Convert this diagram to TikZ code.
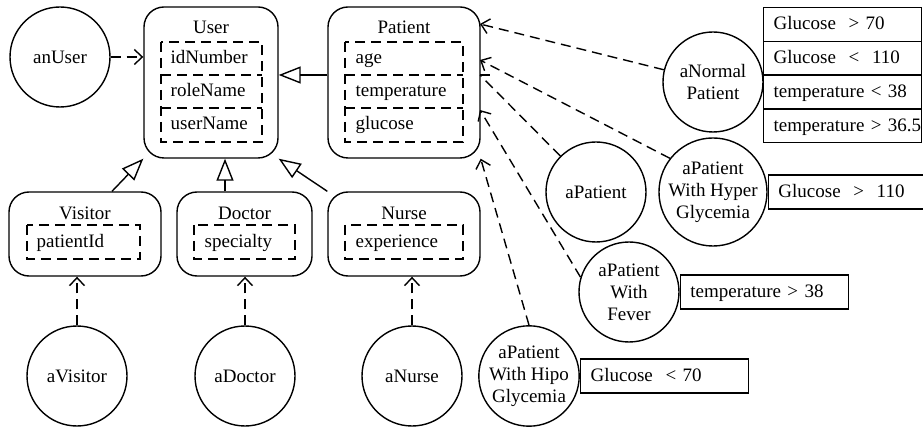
\documentclass[tikz,border=0pt]{standalone}
\usepackage{fontspec}
\setmainfont{Liberation Serif}
\usetikzlibrary{arrows.meta,calc}
\tikzset{
    cls/.style={draw, rounded corners=20pt, inner sep=0pt},
    obj/.style={draw, circle, inner sep=0pt, minimum size=100pt, align=center},
    ttl/.style={anchor=base, inner sep=0pt},
    attr/.style={anchor=base west, inner sep=0pt},
    cond/.style={draw, anchor=north west, minimum height=33.7pt, text width=#1, inner xsep=0pt, inner ysep=0pt,
        align=left, execute at begin node=\hspace*{10pt}, text height=12.6pt, text depth=2pt},
    cond/.default=158pt,
    dsh/.style={dash pattern=on 10pt off 6pt},
    gen/.style={-{Triangle[open,length=22pt,width=17pt]}},
    dep/.style={dsh,-{Straight Barb[length=8pt,width=15pt]}}}

\begin{document}
\begin{tikzpicture}[x=1pt,y=-1pt,line width=1.4pt,font=\fontsize{19}{22}\selectfont]
\useasboundingbox (0,0) rectangle (923,427);

% classes
\node[cls, minimum width=134pt, minimum height=151pt] (User) at (211,82.5) {};
\node[cls, minimum width=152pt, minimum height=151pt] (Patient) at (404,82.5) {};
\node[cls, minimum width=152pt, minimum height=84pt] (Visitor) at (85,234) {};
\node[cls, minimum width=135pt, minimum height=84pt] (Doctor) at (244.5,234) {};
\node[cls, minimum width=152pt, minimum height=84pt] (Nurse) at (404,234) {};

\node[ttl] (User-t) at (211,34) {User};
\node[ttl] (Patient-t) at (404,34) {Patient};
\node[ttl] (Visitor-t) at (85,220) {Visitor};
\node[ttl] (Doctor-t) at (244.5,220) {Doctor};
\node[ttl] (Nurse-t) at (404,220) {Nurse};

% attributes
\draw[dsh] (161,42) rectangle (262,142);
\draw[dsh] (161,75) -- (262,75) (161,108) -- (262,108);
\draw[dsh] (345,42) rectangle (463,142);
\draw[dsh] (345,75) -- (463,75) (345,108) -- (463,108);
\draw[dsh] (27,225) rectangle (140,259);
\draw[dsh] (194,225) rectangle (295,259);
\draw[dsh] (345,225) rectangle (463,259);

\foreach \t [count=\i] in {idNumber,roleName,userName}
    \node[attr] (User-a\i) at (170,{30+33.3*\i}) {\t};
\foreach \t [count=\i] in {age,temperature,glucose}
    \node[attr] (Patient-a\i) at (355,{30+33.3*\i}) {\t};
\node[attr] (Visitor-a1) at (36,248) {patientId};
\node[attr] (Doctor-a1) at (204,248) {specialty};
\node[attr] (Nurse-a1) at (355,248) {experience};

% objects
\node[obj] (anUser) at (60,57) {anUser};
\node[obj] (aVisitor) at (77,376) {aVisitor};
\node[obj] (aDoctor) at (245,376) {aDoctor};
\node[obj] (aNurse) at (412,376) {aNurse};
\node[obj] (aNormal) at (713,82) {aNormal\\Patient};
\node[obj] (aPatient) at (596,192) {aPatient};
\node[obj] (aHyper) at (713,192) {aPatient\\With Hyper\\Glycemia};
\node[obj] (aFever) at (629,292) {aPatient\\With\\Fever};
\node[obj] (aHipo) at (529,376) {aPatient\\With Hipo\\Glycemia};

% conditions
\foreach \t [count=\i] in {{Glucose\ \ > 70},{Glucose\ \ <\ \ 110},{temperature < 38},{temperature > 36.5}}
    \node[cond] (cNormal\i) at (763,{7+33.75*(\i-1)}) {\t};
\node[cond, anchor=west] (cHyper) at (aHyper.east) {Glucose\ \ >\ \ 110};
\node[cond=168pt, anchor=west] (cFever) at (aFever.east) {temperature > 38};
\node[cond=168pt, anchor=west] (cHipo) at (aHipo.east) {Glucose\ \ < 70};

% generalization
\draw[gen] ([xshift=27pt]Visitor.north) -- (User.south west);
\draw[gen] ([xshift=-19.5pt]Doctor.north) -- ([xshift=14pt]User.south);
\draw[gen] (Nurse.north west) -- (User.south east);
\draw[gen] ([yshift=7.5pt]Patient.west) -- ([yshift=7.5pt]User.east);

% instance of
\draw[dep] (anUser) -- (anUser -| User.west);
\draw[dep] (aVisitor) -- (aVisitor |- Visitor.south);
\draw[dep] (aDoctor) -- (aDoctor |- Doctor.south);
\draw[dep] (aNurse) -- (aNurse |- Nurse.south);

\coordinate (p1) at (480,24);
\coordinate (p2) at (480,60);
\coordinate (p3) at (480,75);
\coordinate (p4) at (480,110);
\coordinate (p5) at (Patient.south east);
\draw[dep] (aNormal) -- (p1);
\draw[dep] (aHyper.142) -- (p2);
\draw[dsh] (aPatient) -- (p3);
\draw (p3) -- ++(10,0);
\draw[dep] (aFever.163) -- (p4);
\draw[dep] (aHipo.north) -- (p5);
\end{tikzpicture}
\end{document}
